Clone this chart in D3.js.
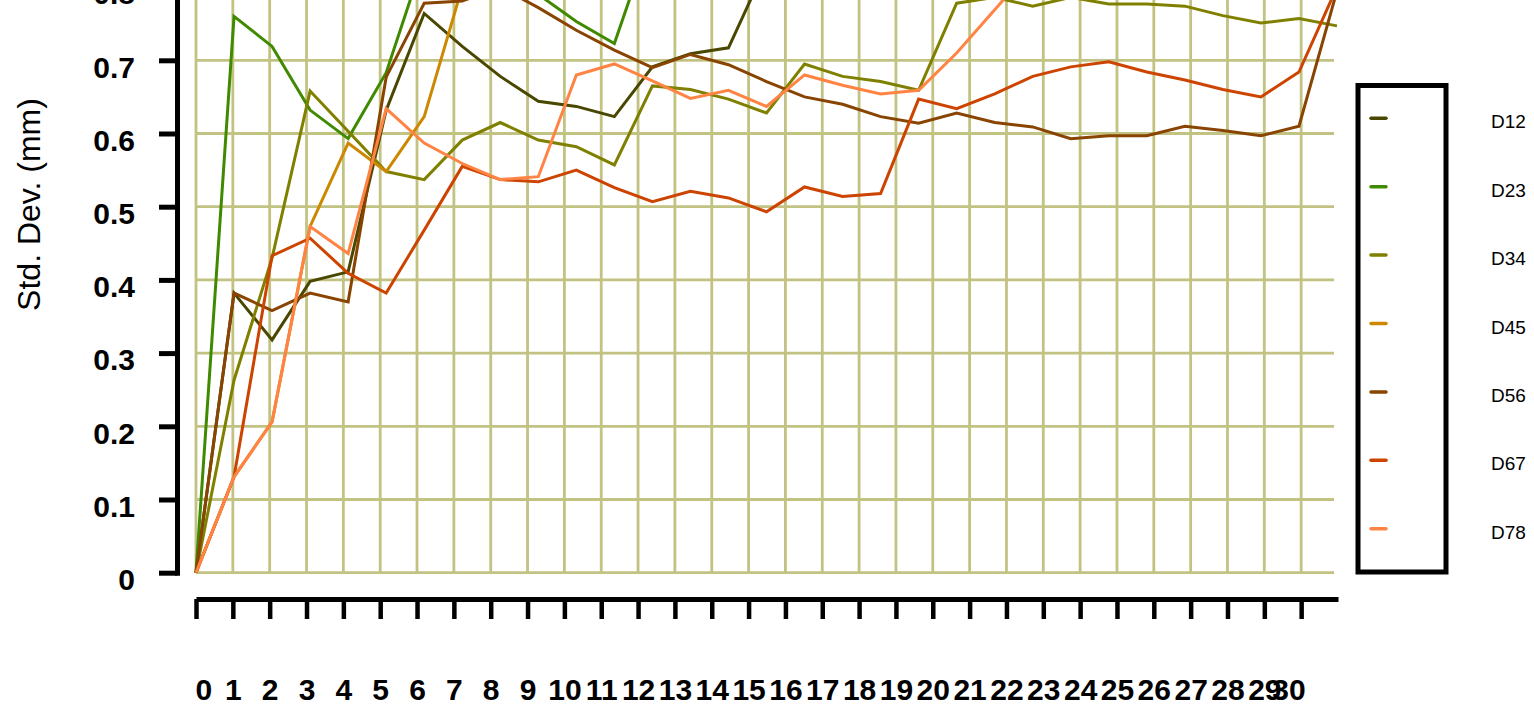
<!DOCTYPE html>
<html>
<head>
<meta charset="utf-8">
<script src="https://cdn.jsdelivr.net/npm/d3@7"></script>
<style>
  html, body { margin: 0; padding: 0; background: #fff; overflow: hidden; }
  svg { display: block; }
  text { font-family: "Liberation Sans", Arial, Helvetica, sans-serif; }
</style>
</head>
<body>
<svg id="chart" width="1534" height="708"></svg>
<script>
// Category labels along the x axis
const xLabels = [0, 1, 2, 3, 4, 5, 6, 7, 8, 9, 10, 11, 12, 13, 14, 15, 16, 17, 18, 19, 20,
                 21, 22, 23, 24, 25, 26, 27, 28, 29, 30];

// Y tick values
const yTicks = [0, 0.1, 0.2, 0.3, 0.4, 0.5, 0.6, 0.7, 0.8, 0.9, 1.0];

// Series names and colours
const seriesNames = ["D12", "D23", "D34", "D45", "D56", "D67", "D78"];
const seriesColors = ["#4a4700", "#3f8a00", "#808000", "#cc8800", "#884400", "#cc4400", "#ff8444"];

// Standard deviation values (mm), one per category
const D12 = [0, 0.382, 0.318, 0.398, 0.411, 0.632, 0.764, 0.719, 0.678, 0.644, 0.637, 0.623, 0.691, 0.709, 0.717,
             0.83, 0.86, 0.85, 0.88, 0.87, 0.90, 0.92, 0.91, 0.93, 0.95, 0.94, 0.96, 0.95, 0.97, 0.98, 0.99];
const D23 = [0, 0.760, 0.719, 0.632, 0.593, 0.683, 0.84, 0.88, 0.85, 0.79, 0.753, 0.723, 0.874, 0.90, 0.92,
             0.91, 0.93, 0.95, 0.94, 0.96, 0.97, 0.95, 0.98, 0.99, 0.97, 1.0, 0.98, 0.99, 1.0, 0.99, 1.0];
const D34 = [0, 0.263, 0.43, 0.658, 0.603, 0.548, 0.537, 0.591, 0.615, 0.591, 0.582, 0.557, 0.665, 0.660, 0.647,
             0.628, 0.695, 0.678, 0.671, 0.659, 0.778, 0.786, 0.774, 0.786, 0.777, 0.777, 0.774, 0.761, 0.751, 0.757, 0.747];
const D45 = [0, 0.131, 0.206, 0.473, 0.587, 0.548, 0.623, 0.80, 0.84, 0.86, 0.85, 0.88, 0.87, 0.90, 0.89,
             0.91, 0.93, 0.92, 0.94, 0.93, 0.95, 0.96, 0.94, 0.97, 0.96, 0.98, 0.97, 0.99, 0.98, 1.0, 0.99];
const D56 = [0, 0.382, 0.358, 0.382, 0.370, 0.677, 0.778, 0.781, 0.80, 0.772, 0.741, 0.714, 0.690, 0.708, 0.694,
             0.671, 0.650, 0.640, 0.623, 0.614, 0.628, 0.615, 0.609, 0.593, 0.597, 0.597, 0.610, 0.604, 0.597, 0.610, 0.795];
const D67 = [0, 0.131, 0.433, 0.457, 0.409, 0.382, 0.468, 0.555, 0.537, 0.534, 0.550, 0.526, 0.507, 0.521, 0.512,
             0.493, 0.527, 0.514, 0.518, 0.647, 0.634, 0.654, 0.678, 0.691, 0.698, 0.684, 0.673, 0.660, 0.650, 0.684, 0.80];
const D78 = [0, 0.131, 0.206, 0.473, 0.436, 0.634, 0.587, 0.559, 0.537, 0.541, 0.680, 0.695, 0.672, 0.648, 0.659,
             0.637, 0.680, 0.666, 0.654, 0.659, 0.710, 0.769, 0.828, 0.86, 0.88, 0.87, 0.90, 0.89, 0.92, 0.91, 0.93];

const seriesValues = [D12, D23, D34, D45, D56, D67, D78];

const svg = d3.select("#chart");

// Plot geometry
const left = 196, right = 1338, baseY = 572.7, unitPx = 732;
const gridColor = "#c2c283";

// Data points spread over the full width; category grid uses 31 slots
const xData = d3.scaleLinear().domain([0, xLabels.length - 1]).range([left, right - 1]);
const xGrid = d3.scaleLinear().domain([0, xLabels.length]).range([left, right]);
const y = d3.scaleLinear().domain([0, 1]).range([baseY, baseY - unitPx]);

// Grid
const grid = svg.append("g").attr("class", "grid");
grid.selectAll("line.h").data(yTicks).join("line")
  .attr("class", "h")
  .attr("x1", left).attr("x2", right - 4)
  .attr("y1", d => y(d)).attr("y2", d => y(d))
  .attr("stroke", gridColor).attr("stroke-width", 2.8);
grid.selectAll("line.v").data(xLabels).join("line")
  .attr("class", "v")
  .attr("x1", (d, i) => xGrid(i)).attr("x2", (d, i) => xGrid(i))
  .attr("y1", y(0)).attr("y2", y(1))
  .attr("stroke", gridColor).attr("stroke-width", 2.8);

// Series lines
const line = d3.line().x((d, i) => xData(i)).y(d => y(d));
svg.append("g").attr("class", "series")
  .selectAll("path").data(seriesValues).join("path")
  .attr("d", d => line(d))
  .attr("fill", "none")
  .attr("stroke", (d, i) => seriesColors[i])
  .attr("stroke-width", 3)
  .attr("stroke-linejoin", "miter");

// Y axis
const yAxis = svg.append("g")
  .attr("transform", "translate(177,0)")
  .call(d3.axisLeft(y).tickValues(yTicks).tickSize(18).tickSizeOuter(0)
    .tickFormat(d => d === 0 ? "0" : d3.format(".1f")(d)));
yAxis.select(".domain").attr("stroke", "#000").attr("stroke-width", 5).attr("stroke-linecap", "square");
yAxis.selectAll(".tick line").attr("stroke", "#000").attr("stroke-width", 5);
yAxis.selectAll(".tick text")
  .attr("x", -42).attr("dy", "0.56em")
  .attr("fill", "#000")
  .style("font-size", "30px").style("font-weight", "bold")
  .style("font-family", "'Liberation Sans', Arial, sans-serif");

// X axis (category ticks)
const xAxis = svg.append("g")
  .attr("transform", "translate(0,599)")
  .call(d3.axisBottom(xGrid).tickValues(xLabels.map((d, i) => i)).tickSize(20).tickSizeOuter(0)
    .tickFormat(i => String(xLabels[i])));
xAxis.select(".domain").attr("stroke", "#000").attr("stroke-width", 5);
xAxis.selectAll(".tick line").attr("stroke", "#000").attr("stroke-width", 4.5);
const lastIdx = xLabels.length - 1;
xAxis.selectAll(".tick text")
  .attr("y", 101).attr("dy", 0)
  .attr("x", (d) => d === 0 ? -1 : (d === lastIdx ? 4 : 0))
  .attr("text-anchor", d => d === 0 ? "start" : (d === lastIdx ? "end" : "middle"))
  .attr("fill", "#000")
  .style("font-size", "30px").style("font-weight", "bold")
  .style("font-family", "'Liberation Sans', Arial, sans-serif");

// Y axis title
svg.append("text")
  .attr("transform", "translate(40,204.5) rotate(-90)")
  .attr("text-anchor", "middle")
  .style("font-size", "32px")
  .attr("fill", "#000")
  .text("Std. Dev. (mm)");

// Legend
const legend = svg.append("g").attr("class", "legend");
legend.append("rect")
  .attr("x", 1358).attr("y", 85.5).attr("width", 88).attr("height", 486.5)
  .attr("fill", "none").attr("stroke", "#000").attr("stroke-width", 5);
const legendY = d3.scalePoint().domain(seriesNames).range([118.3, 528.7]);
const entry = legend.selectAll("g.entry").data(seriesNames).join("g")
  .attr("class", "entry")
  .attr("transform", d => `translate(0,${legendY(d)})`);
entry.append("line")
  .attr("x1", 1371).attr("x2", 1386).attr("y1", 0).attr("y2", 0)
  .attr("stroke", (d, i) => seriesColors[i]).attr("stroke-width", 3.5)
  .attr("stroke-linecap", "round");
entry.append("text")
  .attr("x", 1491).attr("y", 10)
  .style("font-size", "19px")
  .attr("fill", "#000")
  .text(d => d);
</script>
</body>
</html>
